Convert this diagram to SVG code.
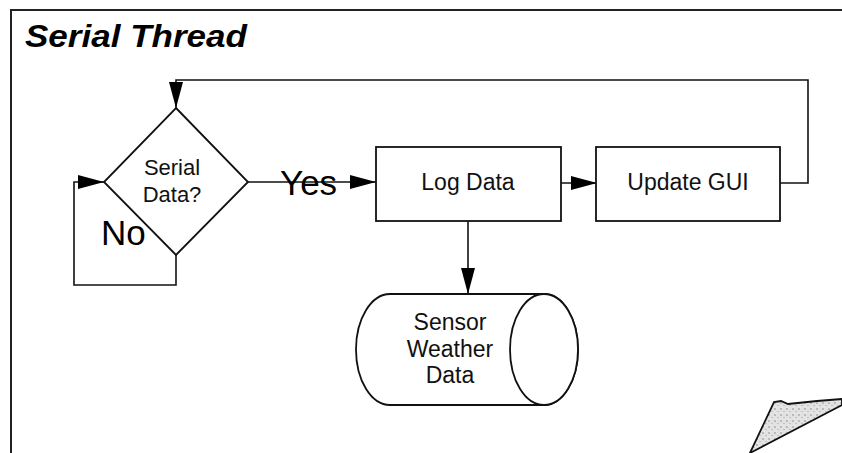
<svg xmlns="http://www.w3.org/2000/svg" width="842" height="453" viewBox="0 0 842 453">
  <defs>
    <style>
      .frame { fill: none; stroke: #222; stroke-width: 2; }
      .shape { fill: #fff; stroke: #111; stroke-width: 1.8; }
      .wire { fill: none; stroke: #111; stroke-width: 1.6; }
      .lbl { font-family: "Liberation Sans", Arial, sans-serif; font-size: 22px; fill: #111; text-anchor: middle; }
      .big { font-family: "Liberation Sans", Arial, sans-serif; font-size: 35px; fill: #000; }
      .title { font-family: "Liberation Sans", Arial, sans-serif; font-size: 31px; font-weight: bold; font-style: italic; fill: #000; }
    </style>
    <marker id="arrow" markerUnits="userSpaceOnUse" markerWidth="27" markerHeight="15" refX="26" refY="7" orient="auto">
      <path d="M0,0 L26,7 L0,14 Z" fill="#000"/>
    </marker>
    <pattern id="stipple" width="6" height="6" patternUnits="userSpaceOnUse">
      <rect width="6" height="6" fill="#e2e2e2"/>
      <circle cx="1" cy="1" r="0.7" fill="#777"/>
      <circle cx="4" cy="3.5" r="0.6" fill="#999"/>
      <circle cx="2" cy="5" r="0.5" fill="#fff"/>
    </pattern>
  </defs>

  <rect width="842" height="453" fill="#fff"/>

  <!-- page frame and title -->
  <path class="frame" d="M11,453 V10 H842"/>
  <text class="title" x="25" y="47" textLength="222" lengthAdjust="spacingAndGlyphs">Serial Thread</text>

  <!-- connectors -->
  <g id="connectors">
    <!-- return loop from Update GUI back to the decision -->
    <path class="wire" d="M780,183 H808 V80 H176 V108" marker-end="url(#arrow)"/>
    <!-- No branch loops back into the decision -->
    <path class="wire" d="M176,255 V285 H74 V182 H104" marker-end="url(#arrow)"/>
    <!-- Yes branch -->
    <path class="wire" d="M248,182 H376" marker-end="url(#arrow)"/>
    <path class="wire" d="M561,183 H597" marker-end="url(#arrow)"/>
    <path class="wire" d="M468,221 V294" marker-end="url(#arrow)"/>
    <text class="big" x="280" y="195">Yes</text>
    <text class="big" x="101" y="245">No</text>
  </g>

  <!-- decision -->
  <g id="serial-data">
    <polygon class="shape" points="176,108 248,182 176,255 104,182"/>
    <text class="lbl" x="172" y="175">Serial</text>
    <text class="lbl" x="172" y="202">Data?</text>
  </g>

  <g id="log-data">
    <rect class="shape" x="376" y="147" width="185" height="74"/>
    <text class="lbl" x="468" y="190" style="font-size:23px">Log Data</text>
  </g>

  <g id="update-gui">
    <rect class="shape" x="596" y="147" width="184" height="74"/>
    <text class="lbl" x="688" y="190" style="font-size:23px">Update GUI</text>
  </g>

  <!-- data store drawn as a horizontal cylinder -->
  <g id="sensor-weather-data">
    <path class="shape" d="M390,294 H544 A34,55.5 0 0 1 544,405 H390 A34,55.5 0 0 1 390,294 Z"/>
    <ellipse class="shape" cx="544" cy="349.5" rx="34" ry="55.5"/>
    <text class="lbl" x="450" y="330" style="font-size:23px">Sensor</text>
    <text class="lbl" x="450" y="357" style="font-size:23px">Weather</text>
    <text class="lbl" x="450" y="383" style="font-size:23px">Data</text>
  </g>

  <!-- page curl in the corner -->
  <path d="M750,453 L774,402 L781,401 L788,404 L817,401 L842,399 L842,405 Z" fill="url(#stipple)" stroke="#111" stroke-width="1.8"/>
</svg>
